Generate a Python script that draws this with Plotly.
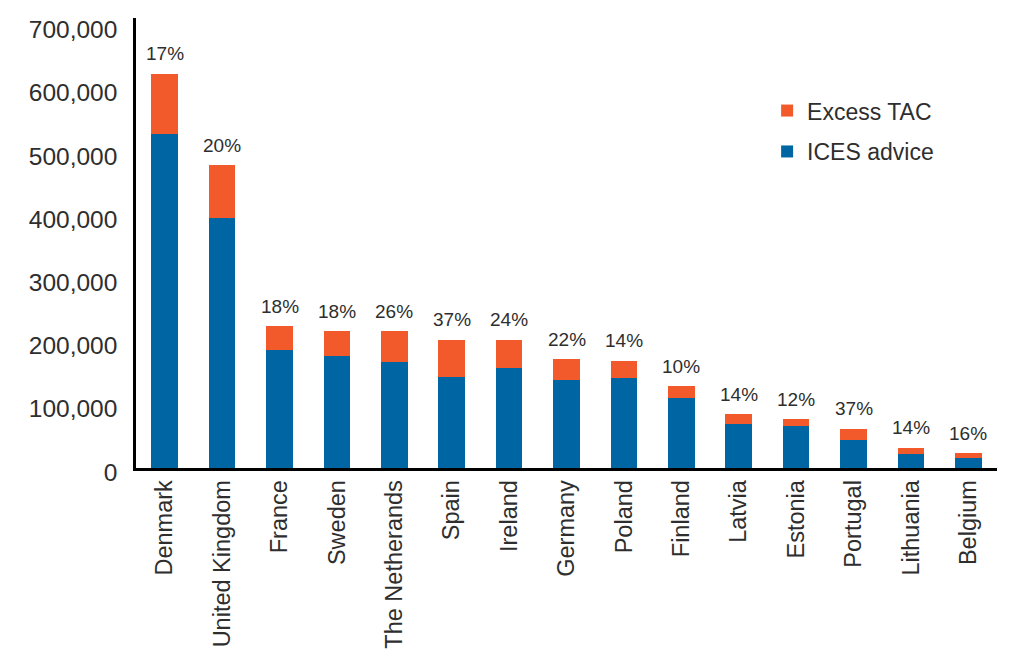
import plotly.graph_objects as go

countries = ["Denmark", "United Kingdom", "France", "Sweden", "The Netherands", "Spain",
             "Ireland", "Germany", "Poland", "Finland", "Latvia", "Estonia", "Portugal",
             "Lithuania", "Belgium"]
ices_advice = [528000, 395000, 186000, 178000, 168000, 144000, 158000, 139000, 142000,
               111000, 69000, 66000, 44000, 22500, 15700]
excess_tac = [96000, 84000, 38000, 38000, 48000, 59000, 45000, 33000, 28000,
              18500, 16000, 11500, 18000, 9500, 8000]
pct_labels = ["17%", "20%", "18%", "18%", "26%", "37%", "24%", "22%", "14%", "10%",
              "14%", "12%", "37%", "14%", "16%"]
y_ticks = [0, 100000, 200000, 300000, 400000, 500000, 600000, 700000]

blue = "#0066a3"
orange = "#f25a2b"
font = "Liberation Sans"
txt = "#2e2e2e"

fig = go.Figure()
fig.add_trace(go.Bar(x=countries, y=ices_advice, name="ICES advice", marker_color=blue,
                     marker_line_width=0, legendgroup="ices", legendrank=2))
fig.add_trace(go.Bar(x=countries, y=excess_tac, name="Excess TAC", marker_color=orange,
                     marker_line_width=0, legendgroup="excess", legendrank=1))

# percentage labels above each stack
totals = [a + b for a, b in zip(ices_advice, excess_tac)]
for c, t, p in zip(countries, totals, pct_labels):
    fig.add_annotation(x=c, y=t, text=p, showarrow=False, yanchor="middle", yshift=20,
                       font=dict(family=font, size=19, color=txt))

# page body has an 8px margin, so shift everything up/left by 8
fig.update_layout(
    width=1024, height=670,
    barmode="stack", bargap=0.534,
    plot_bgcolor="white", paper_bgcolor="white",
    margin=dict(l=128, r=35, t=8, b=210),
    font=dict(family=font, color=txt),
    legend=dict(x=0.733, y=0.842, xanchor="left", yanchor="top",
                font=dict(family=font, size=23, color=txt),
                traceorder="grouped", tracegroupgap=8,
                bgcolor="rgba(0,0,0,0)"),
)
fig.update_xaxes(showline=True, linecolor="black", linewidth=2.5, showgrid=False,
                 tickangle=-90, ticks="", tickfont=dict(family=font, size=23.5, color=txt),
                 ticklabelstandoff=0)
fig.update_yaxes(range=[0, 712000], tickvals=y_ticks, tickformat=",", showline=True,
                 linecolor="black", linewidth=2.5, showgrid=False, zeroline=False, ticks="",
                 tickfont=dict(family=font, size=24.5, color=txt), ticklabelstandoff=11,
                 ticklabelshift=4)

fig.write_html("out.html")
